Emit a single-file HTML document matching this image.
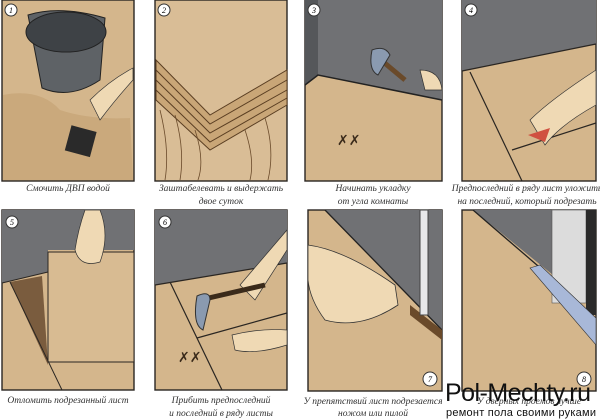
<!DOCTYPE html>
<html><head><meta charset="utf-8"><style>
html,body{margin:0;padding:0;background:#fff;width:600px;height:420px;overflow:hidden}
svg{display:block}
.c{font-family:"Liberation Serif",serif;font-style:italic;font-size:9.5px;fill:#333;text-anchor:middle}
.p{stroke:#2a2622;stroke-width:1.4}
</style></head><body>
<svg width="600" height="420" viewBox="0 0 600 420" xmlns="http://www.w3.org/2000/svg">
<!-- Panel 1 -->
<rect x="2" y="0" width="132" height="181" fill="#d4b68c" class="p"/>
<path d="M3 95 Q40 88 60 110 Q90 120 130 118 L133 180 L3 180Z" fill="#caa97c"/>
<path d="M28 15 Q60 5 105 18 L100 80 Q70 100 42 88Z" fill="#5e6266" stroke="#222"/>
<ellipse cx="66" cy="32" rx="40" ry="20" fill="#3e4246" stroke="#222"/>
<path d="M90 100 Q110 80 133 68 L133 80 Q115 100 100 120Z" fill="#efd9b4" stroke="#333" stroke-width=".7"/>
<rect x="68" y="128" width="26" height="26" fill="#2a2a2a" transform="rotate(15 80 140)"/>
<circle cx="11" cy="10" r="6" fill="#fff" stroke="#333"/><text x="11" y="13" font-size="8" text-anchor="middle" font-style="italic">1</text>
<!-- Panel 2 -->
<rect x="155" y="0" width="132" height="181" fill="#d9bd96" class="p"/>
<path d="M156 60 L210 115 L287 70 L287 105 L210 150 L156 100Z" fill="#c9a677" stroke="#5a3e22" stroke-width="1"/>
<path d="M156 70 L210 124 L287 80 M156 80 L210 133 L287 90 M156 90 L210 142 L287 98" stroke="#5a3e22" fill="none"/>
<path d="M160 110 Q170 150 165 180 M175 115 Q185 150 180 180 M195 130 Q205 160 198 180 M245 130 Q255 160 250 180 M265 118 Q275 150 268 180" stroke="#6a4a2a" fill="none" stroke-width=".8"/>
<circle cx="164" cy="10" r="6" fill="#fff" stroke="#333"/><text x="164" y="13" font-size="8" text-anchor="middle" font-style="italic">2</text>
<!-- Panel 3 -->
<rect x="305" y="0" width="137" height="181" fill="#d4b68c" class="p"/>
<path d="M305 0 L442 0 L442 100 L318 75 L305 85Z" fill="#707174"/>
<path d="M305 0 L318 0 L318 75 L305 85Z" fill="#55575a"/>
<path d="M305 85 L318 75 L442 100" stroke="#222" fill="none" stroke-width="1.5"/>
<path d="M375 55 L405 80" stroke="#6a4a2a" stroke-width="5"/>
<path d="M372 50 Q385 45 390 55 L378 75 Q368 70 372 50Z" fill="#8a9ab0" stroke="#333"/>
<path d="M420 70 Q440 70 442 90 L425 90Z" fill="#efd9b4" stroke="#333" stroke-width=".7"/>
<text x="337" y="145" font-size="14" fill="#3a2a1a">✗✗</text>
<circle cx="314" cy="10" r="6" fill="#fff" stroke="#333"/><text x="314" y="13" font-size="8" text-anchor="middle" font-style="italic">3</text>
<!-- Panel 4 -->
<rect x="462" y="0" width="134" height="181" fill="#d4b68c" class="p"/>
<path d="M462 0 L596 0 L596 44 L462 71Z" fill="#707174"/>
<path d="M462 71 L596 44 M470 72 L522 181 M512 150 L596 123" stroke="#2a2622" fill="none" stroke-width="1.2"/>
<path d="M530 120 Q550 100 596 70 L596 105 Q560 125 545 145Z" fill="#efd9b4" stroke="#333" stroke-width=".7"/>
<path d="M528 135 L550 128 L545 142 Z" fill="#d05040"/>
<circle cx="471" cy="10" r="6" fill="#fff" stroke="#333"/><text x="471" y="13" font-size="8" text-anchor="middle" font-style="italic">4</text>
<!-- Panel 5 -->
<rect x="2" y="210" width="132" height="180" fill="#d4b68c" class="p"/>
<path d="M2 210 L134 210 L134 250 L48 250 L48 272 L2 283Z" fill="#707174"/>
<path d="M10 282 L42 276 L48 365Z" fill="#7a5c3e"/>
<rect x="48" y="252" width="86" height="110" fill="#d8bb92" stroke="#2a2622"/>
<path d="M2 283 L48 272 M10 282 L62 390 M48 362 L134 362" stroke="#2a2622" fill="none"/>
<path d="M85 210 L100 210 Q110 235 100 262 Q80 268 75 250 Q78 230 85 210Z" fill="#efd9b4" stroke="#333" stroke-width=".7"/>
<circle cx="12" cy="222" r="6" fill="#fff" stroke="#333"/><text x="12" y="225" font-size="8" text-anchor="middle" font-style="italic">5</text>
<!-- Panel 6 -->
<rect x="155" y="210" width="132" height="180" fill="#d4b68c" class="p"/>
<path d="M155 210 L287 210 L287 263 L155 285Z" fill="#707174"/>
<path d="M155 285 L287 263 M170 282 L222 390 M197 338 L287 313" stroke="#2a2622" fill="none" stroke-width="1.2"/>
<path d="M240 285 L287 230 L287 250 L255 300Z" fill="#efd9b4" stroke="#333" stroke-width=".7"/>
<path d="M200 300 L265 285" stroke="#3a2a1a" stroke-width="5"/>
<path d="M197 296 Q210 290 210 300 L203 330 Q192 325 197 296Z" fill="#8a9ab0" stroke="#333"/>
<path d="M232 335 Q260 328 287 330 L287 345 Q255 355 235 350Z" fill="#efd9b4" stroke="#333" stroke-width=".7"/>
<text x="178" y="362" font-size="14" fill="#3a2a1a">✗✗</text>
<circle cx="165" cy="222" r="6" fill="#fff" stroke="#333"/><text x="165" y="225" font-size="8" text-anchor="middle" font-style="italic">6</text>
<!-- Panel 7 -->
<rect x="308" y="210" width="134" height="181" fill="#d4b68c" class="p"/>
<path d="M325 210 L442 210 L442 330 Z" fill="#707174"/>
<path d="M325 210 L442 330" stroke="#222" stroke-width="1.3"/>
<path d="M410 305 L442 330 L442 340 L410 315Z" fill="#6a4a2a"/>
<rect x="420" y="210" width="8" height="105" fill="#e8e8ea" stroke="#444"/>
<path d="M308 245 Q345 250 395 285 L398 305 Q360 330 325 320 Q310 300 308 280Z" fill="#efd9b4" stroke="#333" stroke-width=".8"/>
<circle cx="430" cy="379" r="7" fill="#fff" stroke="#333"/><text x="430" y="382" font-size="8" text-anchor="middle" font-style="italic">7</text>
<!-- Panel 8 -->
<rect x="462" y="210" width="134" height="181" fill="#d4b68c" class="p"/>
<path d="M473 210 L596 210 L596 310 Z" fill="#707174"/>
<rect x="552" y="210" width="34" height="93" fill="#dcdcdc" stroke="#555" stroke-width=".6"/>
<rect x="586" y="210" width="10" height="105" fill="#2a2a2a"/>
<path d="M473 210 L552 278" stroke="#222" stroke-width="1.3"/>
<path d="M530 268 L540 265 L596 318 L596 345Z" fill="#a8b8d8" stroke="#333" stroke-width=".6"/>
<circle cx="584" cy="379" r="7" fill="#fff" stroke="#333"/><text x="584" y="382" font-size="8" text-anchor="middle" font-style="italic">8</text>
<!-- captions -->
<text class="c" x="68" y="191">Смочить ДВП водой</text>
<text class="c" x="221" y="191">Заштабелевать и выдержать</text>
<text class="c" x="221" y="204">двое суток</text>
<text class="c" x="373" y="191">Начинать укладку</text>
<text class="c" x="373" y="204">от угла комнаты</text>
<text class="c" x="527" y="191" font-size="9">Предпоследний в ряду лист уложить</text>
<text class="c" x="527" y="204" font-size="9">на последний, который подрезать</text>
<text class="c" x="68" y="403">Отломить подрезанный лист</text>
<text class="c" x="221" y="403">Прибить предпоследний</text>
<text class="c" x="221" y="416">и последний в ряду листы</text>
<text class="c" x="373" y="404">У препятствий лист подрезается</text>
<text class="c" x="373" y="416">ножом или пилой</text>
<text class="c" x="529" y="404" fill="#888">У дверных проемов лучше</text>
<text x="445" y="401" font-family="Liberation Sans,sans-serif" font-size="25" fill="#111" textLength="146">Pol-Mechty.ru</text>
<text x="446" y="416" font-family="Liberation Sans,sans-serif" font-size="11" fill="#111" textLength="150">ремонт пола своими руками</text>
</svg>
</body></html>
